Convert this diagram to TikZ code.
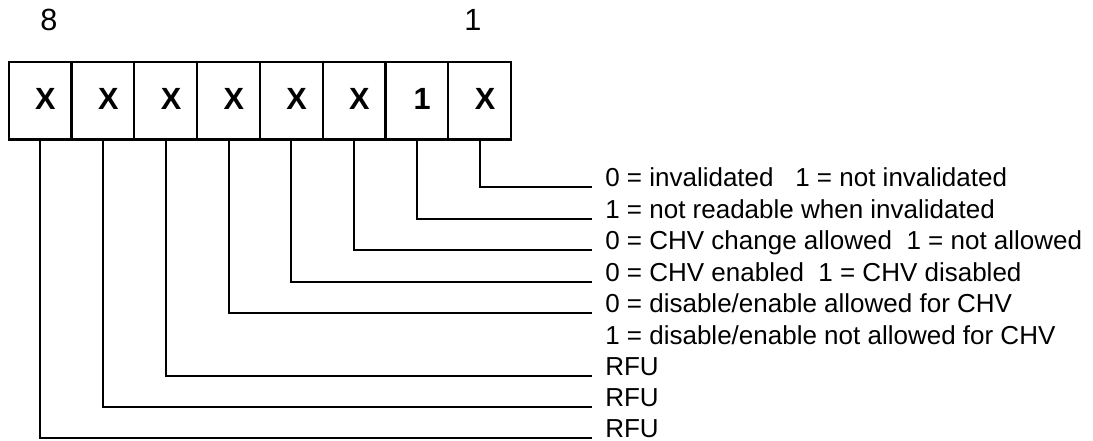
\documentclass[tikz,border=0pt]{standalone}
\usepackage{fontspec}
\setmainfont{Liberation Sans}
\begin{document}
\begin{tikzpicture}[x=0.75pt,y=-0.75pt,
  cell/.style={draw, line width=1.6pt, minimum width=47.1pt, minimum height=58.1pt, inner sep=0pt, outer sep=0pt},
  bitval/.style={font=\fontsize{23}{27}\selectfont\bfseries, inner sep=0pt},
  desc/.style={anchor=base west, inner sep=0pt, font=\fontsize{19.5}{23}\selectfont},
  num/.style={anchor=base, inner sep=0pt, font=\fontsize{23}{27}\selectfont},
  conn/.style={line width=1.5pt}]
\useasboundingbox (0,0) rectangle (1093,441);
% bit numbers
\node[num] (n8) at (49,31) {8};
\node[num] (n1) at (473,31) {1};
% cells
\foreach \i/\x in {8/40.1,7/102.9,6/165.7,5/228.5,4/291.3,3/354.1,2/416.9,1/479.7}
  \node[cell] (c\i) at (\x,100.75) {};
\foreach \i/\v in {8/X,7/X,6/X,5/X,4/X,3/X,2/1,1/X}
  \node[bitval] (v\i) at ([xshift=4pt,yshift=1.3pt]c\i.center) {\v};
% descriptions
\node[desc] (l1) at (605,187) {0 = invalidated\ \ \ 1 = not invalidated};
\node[desc] (l2) at (605,219) {1 = not readable when invalidated};
\node[desc] (l3) at (605,250) {0 = CHV change allowed\ \ 1 = not allowed};
\node[desc] (l4) at (605,282) {0 = CHV enabled\ \ 1 = CHV disabled};
\node[desc] (l5) at (605,313) {0 = disable/enable allowed for CHV};
\node[desc] (l6) at (605,345) {1 = disable/enable not allowed for CHV};
\node[desc] (l7) at (605,376) {RFU};
\node[desc] (l8) at (605,407) {RFU};
\node[desc] (l9) at (605,438) {RFU};
% connectors
\draw[conn] (c1.south) |- ([xshift=-10pt]l1.base west);
\draw[conn] (c2.south) |- ([xshift=-10pt]l2.base west);
\draw[conn] (c3.south) |- ([xshift=-10pt]l3.base west);
\draw[conn] (c4.south) |- ([xshift=-10pt]l4.base west);
\draw[conn] (c5.south) |- ([xshift=-10pt]l5.base west);
\draw[conn] (c6.south) |- ([xshift=-10pt]l7.base west);
\draw[conn] (c7.south) |- ([xshift=-10pt]l8.base west);
\draw[conn] (c8.south) |- ([xshift=-10pt]l9.base west);
\end{tikzpicture}
\end{document}
